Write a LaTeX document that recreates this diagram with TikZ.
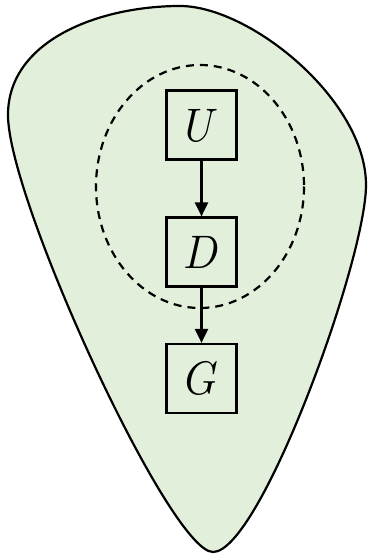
\documentclass[tikz,border=0pt]{standalone}
\usepackage{graphicx}
\usetikzlibrary{arrows.meta}
\definecolor{blobgreen}{RGB}{226,239,218}
\newcommand{\bigvar}[1]{\scalebox{4.2}[4.7]{$#1$}}
\begin{document}
\begin{tikzpicture}[x=1pt,y=-1pt,
  varbox/.style={draw=black,line width=2.2pt,minimum width=70pt,minimum height=69pt,inner sep=0pt},
  link/.style={line width=2.2pt,-{Triangle[width=13pt,length=14pt]}}]
\useasboundingbox (0,0) rectangle (367,554);
\draw[fill=blobgreen,line width=2.2pt]
  (180,6) .. controls (250,6) and (366,100) .. (366,185)
  .. controls (366,260) and (260,552) .. (213,552)
  .. controls (170,552) and (8,200) .. (8,115)
  .. controls (8,40) and (100,6) .. (180,6) -- cycle;
\node[varbox] (U) at (201.5,125) {\bigvar{U}};
\node[varbox] (D) at (201.5,252) {\bigvar{D}};
\node[varbox] (G) at (201.5,378.5) {\bigvar{G}};
\draw[link] (U) -- (D);
\draw[link] (D) -- (G);
\draw[line width=2.2pt,dash pattern=on 8pt off 6pt] (200,186.5) ellipse [x radius=104,y radius=121.5];
\end{tikzpicture}
\end{document}
